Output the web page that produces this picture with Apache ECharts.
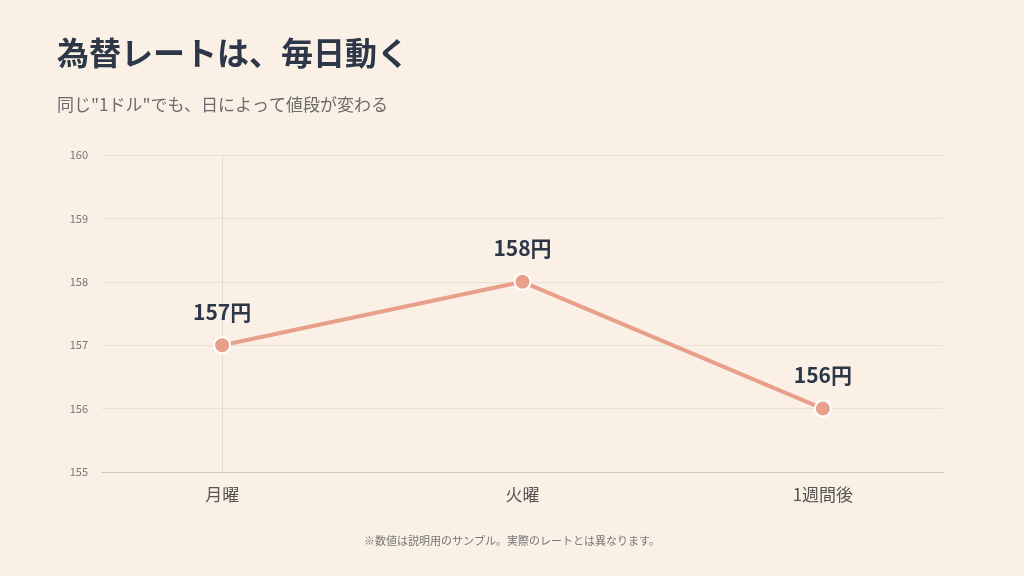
<!DOCTYPE html><html><head><meta charset="utf-8">
<script src="https://cdn.jsdelivr.net/npm/echarts@6/dist/echarts.min.js"></script>
<style>body{margin:0;background:#faf0e6}#c{width:1024px;height:576px}</style></head><body><div id="c"></div>
<script>
const categories=['月曜','火曜','1週間後'];
const values=[157,158,156];
const yTicks=[155,156,157,158,159,160];
const F='"Noto Sans CJK JP","Noto Sans",sans-serif';
const ch=echarts.init(document.getElementById('c'));
ch.setOption({
backgroundColor:'#faf0e6',
textStyle:{fontFamily:F},
title:[{text:'為替レートは、毎日動く',left:52,top:32,textStyle:{fontSize:32,fontWeight:'bold',color:'#2d3748',fontFamily:F}},
{text:'同じ"1ドル"でも、日によって値段が変わる',left:52,top:91,textStyle:{fontSize:17,fontWeight:'normal',color:'#6b6b6b',fontFamily:F}},
{text:'※数値は説明用のサンプル。実際のレートとは異なります。',left:'center',top:530,textStyle:{fontSize:11,fontWeight:'normal',color:'#777',fontFamily:F}}],
grid:{left:102,right:81,top:155,bottom:104},
xAxis:{type:'value',min:-0.4,max:2.4,splitLine:{show:false},
axisLine:{show:true,lineStyle:{color:'#cfc4b8'}},axisTick:{show:false},
axisLabel:{customValues:[0,1,2],formatter:v=>categories[Math.round(v)],fontSize:17,color:'#555',margin:14}},
yAxis:{type:'value',min:155,max:160,interval:1,
axisLine:{show:true,lineStyle:{color:'#e6dcd0'}},axisTick:{show:false},
splitLine:{lineStyle:{color:'#eadfd3'}},axisLabel:{fontSize:11,color:'#777',margin:14}},
series:[{type:'line',data:values.map((v,i)=>[i,v]),symbol:'circle',symbolSize:16,
lineStyle:{color:'#e8a08a',width:4},itemStyle:{color:'#e8a08a',borderColor:'#fff',borderWidth:2},
label:{show:true,position:'top',distance:14,formatter:p=>p.value[1]+'円',fontSize:21,fontWeight:'bold',color:'#2d3748'}}]
});
</script></body></html>
